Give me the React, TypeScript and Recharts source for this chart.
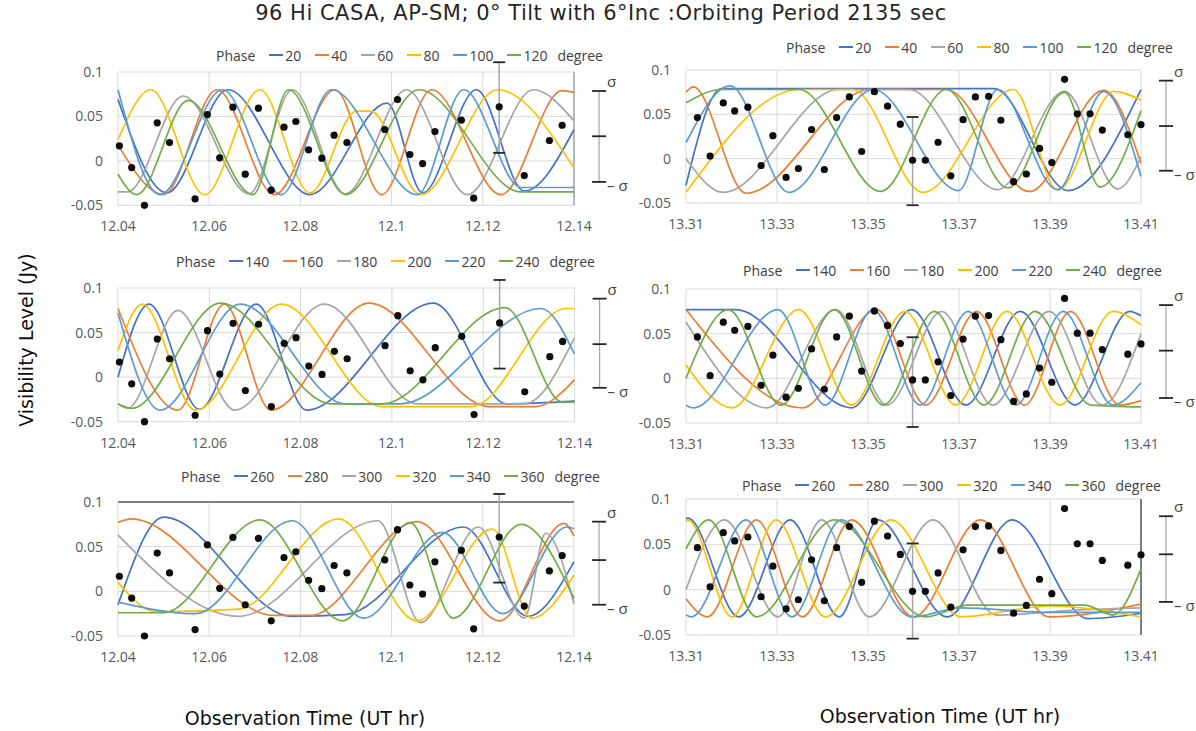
import React from 'react';
import {
  ComposedChart,
  Line,
  Scatter,
  XAxis,
  YAxis,
  CartesianGrid,
  ReferenceLine,
  ReferenceDot,
} from 'recharts';

type Pt = [number, number];

const TITLE = '96 Hi CASA, AP-SM; 0° Tilt with 6°Inc :Orbiting Period 2135 sec';
const Y_TITLE = 'Visibility Level (Jy)';
const X_TITLE = 'Observation Time (UT hr)';

const leftTicks = [12.04, 12.06, 12.08, 12.1, 12.12, 12.14];
const rightTicks = [13.31, 13.33, 13.35, 13.37, 13.39, 13.41];
const yTicks = [-0.05, 0, 0.05, 0.1];

const phaseTop = ['20', '40', '60', '80', '100', '120'];
const phaseMid = ['140', '160', '180', '200', '220', '240'];
const phaseLow = ['260', '280', '300', '320', '340', '360'];
const phaseColors = ['#4472C4', '#ED7D31', '#A5A5A5', '#FFC000', '#5B9BD5', '#70AD47'];

// observed visibilities [UT hr, Jy]
const leftObs: Pt[] = [
  [12.0403, 0.0169], [12.043, -0.0075], [12.0458, -0.05], [12.0486, 0.0428], [12.0513, 0.0206],
  [12.0569, -0.0428], [12.0596, 0.0521], [12.0623, 0.0034], [12.0652, 0.0604], [12.0679, -0.015],
  [12.0708, 0.0593], [12.0736, -0.033], [12.0764, 0.0379], [12.079, 0.0443], [12.0818, 0.0124],
  [12.0847, 0.003], [12.0874, 0.0289], [12.0902, 0.0206], [12.0985, 0.0353], [12.1013, 0.069],
  [12.104, 0.0071], [12.1068, -0.003], [12.1095, 0.033], [12.1153, 0.0458], [12.118, -0.042],
  [12.1236, 0.0608], [12.1291, -0.0165], [12.1346, 0.0229], [12.1374, 0.0401],
];
const rightObs: Pt[] = [
  [13.3125, 0.0463], [13.3153, 0.003], [13.3182, 0.0629], [13.3207, 0.0538], [13.3236, 0.0581],
  [13.3265, -0.0078], [13.3291, 0.0259], [13.332, -0.0211], [13.3347, -0.0111], [13.3376, 0.0329],
  [13.3404, -0.0122], [13.3431, 0.0463], [13.3459, 0.0696], [13.3486, 0.0081], [13.3514, 0.0755],
  [13.3543, 0.0592], [13.3571, 0.0389], [13.3598, -0.0018], [13.3626, -0.0018], [13.3654, 0.0185],
  [13.3682, -0.0193], [13.3709, 0.044], [13.3736, 0.0696], [13.3765, 0.0703], [13.3792, 0.0433],
  [13.382, -0.0259], [13.3848, -0.0174], [13.3877, 0.0115], [13.3904, -0.0044], [13.3932, 0.0895],
  [13.396, 0.0506], [13.3988, 0.0506], [13.4015, 0.0322], [13.4071, 0.027], [13.41, 0.0385],
];

// model curves, turning points [UT hr, Jy], one list per phase
const topLeftCurves: Pt[][] = [
  [[12.04, 0.069], [12.0507, -0.036], [12.0641, 0.08], [12.0821, -0.038], [12.099, 0.065], [12.1068, -0.036], [12.1186, 0.08], [12.1291, -0.034], [12.14, 0.035]],
  [[12.04, 0.018], [12.05, -0.038], [12.0617, 0.08], [12.0743, -0.038], [12.0876, 0.08], [12.0978, -0.038], [12.1088, 0.08], [12.124, -0.038], [12.1374, 0.079], [12.14, 0.077]],
  [[12.04, -0.035], [12.0421, -0.035], [12.0543, 0.073], [12.0688, -0.037], [12.0782, 0.08], [12.0899, -0.037], [12.1033, 0.08], [12.1166, -0.038], [12.1311, 0.08], [12.14, 0.045]],
  [[12.04, 0.024], [12.0472, 0.08], [12.059, -0.038], [12.0711, 0.08], [12.0821, -0.036], [12.0923, 0.056], [12.0954, 0.056], [12.1064, -0.038], [12.1233, 0.08], [12.14, -0.008]],
  [[12.04, 0.08], [12.0492, -0.038], [12.0629, 0.08], [12.0758, -0.038], [12.0868, 0.08], [12.1056, -0.038], [12.1158, 0.08], [12.1284, -0.03], [12.14, -0.03]],
  [[12.04, -0.015], [12.0441, -0.038], [12.0554, 0.068], [12.0696, -0.038], [12.0774, 0.08], [12.0899, -0.038], [12.106, 0.08], [12.1284, -0.035], [12.14, -0.035]],
];
const topRightCurves: Pt[][] = [
  [[13.31, -0.03], [13.3178, 0.079], [13.3777, 0.079], [13.394, -0.036], [13.41, 0.078]],
  [[13.31, 0.075], [13.3116, 0.081], [13.3232, -0.039], [13.3505, 0.078], [13.3672, 0.078], [13.3855, -0.037], [13.4018, 0.077], [13.41, -0.005]],
  [[13.31, 0.0], [13.3182, -0.038], [13.3435, 0.078], [13.359, 0.078], [13.3785, -0.035], [13.3932, 0.076], [13.4049, -0.034], [13.41, 0.002]],
  [[13.31, -0.038], [13.3349, 0.078], [13.3466, 0.078], [13.3621, -0.038], [13.382, 0.078], [13.3917, -0.035], [13.4041, 0.076], [13.41, 0.066]],
  [[13.31, 0.018], [13.3197, 0.082], [13.3326, -0.038], [13.3512, 0.078], [13.3699, -0.036], [13.3785, 0.078], [13.3917, -0.035], [13.4018, 0.076], [13.41, -0.02]],
  [[13.31, 0.063], [13.3178, 0.078], [13.3349, 0.078], [13.3528, -0.037], [13.3672, 0.078], [13.3808, -0.033], [13.3932, 0.075], [13.401, -0.032], [13.41, 0.054]],
];
const midLeftCurves: Pt[][] = [
  [[12.04, 0.0], [12.0468, 0.082], [12.0578, -0.036], [12.0703, 0.082], [12.0813, -0.037], [12.1091, 0.083], [12.1252, -0.03], [12.14, -0.027]],
  [[12.04, 0.077], [12.0531, -0.037], [12.0633, 0.082], [12.0735, -0.037], [12.095, 0.083], [12.1213, -0.033], [12.1315, -0.033], [12.14, -0.003]],
  [[12.04, -0.03], [12.0421, -0.035], [12.0531, 0.075], [12.0656, -0.037], [12.0852, 0.082], [12.1056, -0.03], [12.1291, -0.03], [12.14, 0.044]],
  [[12.04, 0.03], [12.0453, 0.082], [12.057, -0.037], [12.0758, 0.082], [12.0978, -0.033], [12.1174, -0.033], [12.1382, 0.077], [12.14, 0.077]],
  [[12.04, 0.072], [12.0492, -0.037], [12.0668, 0.082], [12.0899, -0.03], [12.1017, -0.03], [12.1327, 0.077], [12.14, 0.026]],
  [[12.04, -0.03], [12.0429, -0.035], [12.0625, 0.083], [12.0868, -0.03], [12.0978, -0.03], [12.1248, 0.078], [12.1374, -0.028], [12.14, -0.028]],
];
const midRightCurves: Pt[][] = [
  [[13.31, 0.077], [13.3209, 0.077], [13.3464, -0.033], [13.3596, 0.077], [13.3715, -0.03], [13.3835, 0.075], [13.3955, -0.03], [13.4075, 0.075], [13.41, 0.07]],
  [[13.31, 0.077], [13.3356, -0.033], [13.3519, 0.077], [13.3627, -0.03], [13.3739, 0.075], [13.3844, -0.03], [13.3945, 0.075], [13.4053, -0.03], [13.41, -0.025]],
  [[13.31, 0.063], [13.3278, -0.033], [13.3429, 0.077], [13.3542, -0.03], [13.3662, 0.075], [13.3774, -0.03], [13.3898, 0.075], [13.4015, -0.03], [13.41, 0.05]],
  [[13.31, 0.015], [13.3201, -0.033], [13.3348, 0.077], [13.3464, -0.03], [13.3581, 0.075], [13.3693, -0.03], [13.3805, 0.075], [13.3922, -0.03], [13.4038, 0.075], [13.41, 0.06]],
  [[13.31, -0.03], [13.3116, -0.033], [13.3302, 0.077], [13.3406, -0.03], [13.3511, 0.077], [13.3615, -0.03], [13.372, 0.075], [13.3825, -0.03], [13.3929, 0.075], [13.4038, -0.03], [13.41, -0.005]],
  [[13.31, 0.0], [13.3193, 0.077], [13.3309, -0.03], [13.3426, 0.077], [13.3534, -0.03], [13.3646, 0.075], [13.3755, -0.03], [13.3867, 0.075], [13.399, -0.03], [13.41, -0.032]],
];
const lowLeftCurves: Pt[][] = [
  [[12.04, -0.015], [12.05, 0.083], [12.0782, -0.028], [12.0899, -0.026], [12.1158, 0.072], [12.1299, -0.028], [12.14, 0.033]],
  [[12.04, 0.077], [12.0429, 0.081], [12.0743, -0.027], [12.0821, -0.027], [12.1056, 0.078], [12.1237, -0.033], [12.1378, 0.076], [12.14, 0.062]],
  [[12.04, 0.063], [12.0664, -0.028], [12.097, 0.079], [12.1064, -0.035], [12.119, 0.072], [12.1291, -0.03], [12.1338, 0.065], [12.14, -0.014]],
  [[12.04, 0.01], [12.0484, -0.023], [12.0664, -0.02], [12.0884, 0.081], [12.1056, -0.033], [12.1221, 0.07], [12.1307, -0.03], [12.14, 0.018]],
  [[12.04, -0.012], [12.057, -0.025], [12.0782, 0.079], [12.0939, -0.03], [12.1111, 0.066], [12.1244, -0.025], [12.1385, 0.072], [12.14, 0.07]],
  [[12.04, -0.024], [12.05, -0.024], [12.0711, 0.08], [12.0892, -0.033], [12.1041, 0.077], [12.1135, -0.03], [12.1284, 0.075], [12.14, -0.008]],
];
const lowRightCurves: Pt[][] = [
  [[13.31, 0.078], [13.3104, 0.079], [13.3216, -0.03], [13.3329, 0.077], [13.3437, -0.03], [13.3522, 0.077], [13.3674, -0.03], [13.3817, 0.077], [13.3984, -0.032], [13.41, -0.026]],
  [[13.31, -0.01], [13.3147, -0.03], [13.3255, 0.077], [13.3356, -0.03], [13.3464, 0.077], [13.36, -0.03], [13.3747, 0.077], [13.3898, -0.03], [13.41, -0.016]],
  [[13.31, 0.0], [13.3185, 0.077], [13.3302, -0.03], [13.3398, 0.077], [13.3503, -0.03], [13.3643, 0.077], [13.3782, -0.028], [13.3976, -0.022], [13.41, -0.02]],
  [[13.31, 0.075], [13.3104, 0.077], [13.3201, -0.03], [13.3298, 0.077], [13.3406, -0.03], [13.355, 0.077], [13.3705, -0.03], [13.3898, -0.018], [13.41, -0.03]],
  [[13.31, -0.028], [13.3112, -0.03], [13.3232, 0.077], [13.3333, -0.03], [13.3441, 0.077], [13.3596, -0.03], [13.3705, -0.02], [13.3898, -0.025], [13.41, -0.025]],
  [[13.31, 0.045], [13.315, 0.077], [13.3255, -0.03], [13.3426, 0.077], [13.3627, -0.03], [13.372, -0.017], [13.3976, -0.017], [13.4038, -0.028], [13.41, 0.023]],
];

// error bar [UT hr, value, low, high] and sigma scale [-σ, mid, σ]
const errTopLeft = [12.1236, 0.0608, 0.009, 0.111];
const errMidLeft = [12.1236, 0.058, 0.0096, 0.109];
const errLowLeft = [12.1236, 0.061, 0.0098, 0.109];
const errTopRight = [13.3598, -0.0018, -0.0525, 0.047];
const errMidRight = [13.3598, -0.004, -0.0545, 0.046];
const errLowRight = [13.3598, 0.0, -0.054, 0.051];
const sigmaTopLeft = [-0.0237, 0.0277, 0.0786];
const sigmaMidLeft = [-0.012, 0.037, 0.088];
const sigmaLowLeft = [-0.015, 0.035, 0.078];
const sigmaTopRight = [-0.0136, 0.0368, 0.088];
const sigmaMidRight = [-0.022, 0.031, 0.082];
const sigmaLowRight = [-0.0135, 0.039, 0.081];

const toRows = (pts: Pt[]) => pts.map(([t, v]) => ({ t, v }));

interface PanelProps {
  plot: { x0: number; x1: number; y0: number; y1: number };
  domain: [number, number];
  ticks: number[];
  curves: Pt[][];
  phases: string[];
  obs: Pt[];
  err: number[];
  sigma: number[];
  legendAt: [number, number];
  topEdge?: string;
  rightEdge?: string;
}

const tickStyle = { fill: '#595959', fontSize: 14 };

function Panel({ plot, domain, ticks, curves, phases, obs, err, sigma, legendAt, topEdge, rightEdge }: PanelProps) {
  const ML = 70;
  const MR = 64;
  const MT = 12;
  const MB = 34;
  const w = plot.x1 - plot.x0 + ML + MR;
  const h = plot.y1 - plot.y0 + MT + MB;
  const span = domain[1] - domain[0];
  const sx = domain[1] + span * 0.055;
  const [et, , elo, ehi] = err;
  const [slo, smid, shi] = sigma;

  const cap = (d: any) => (
    <line x1={d.cx - 6} x2={d.cx + 6} y1={d.cy} y2={d.cy} stroke="#262626" strokeWidth={1.8} />
  );
  const sigTick = (label: string, dy: number) => (d: any) => (
    <g>
      <line x1={d.cx - 7} x2={d.cx + 7} y1={d.cy} y2={d.cy} stroke="#262626" strokeWidth={1.8} />
      {label && (
        <text x={d.cx + 8} y={d.cy + dy} fontSize={15} fill="#404040" dominantBaseline="middle">
          {label}
        </text>
      )}
    </g>
  );

  return (
    <>
      <div style={{ position: 'absolute', left: plot.x0 - ML, top: plot.y0 - MT }}>
        <ComposedChart width={w} height={h} margin={{ top: MT, right: MR, bottom: 4, left: 10 }}>
          <CartesianGrid stroke="#d9d9d9" />
          <XAxis
            type="number"
            dataKey="t"
            domain={domain}
            ticks={ticks}
            interval={0}
            axisLine={false}
            tickLine={false}
            tickMargin={10}
            height={30}
            tick={tickStyle}
          />
          <YAxis
            type="number"
            dataKey="v"
            domain={[-0.05, 0.1]}
            ticks={yTicks}
            interval={0}
            axisLine={false}
            tickLine={false}
            tickMargin={9}
            width={60}
            tick={tickStyle}
          />
          {topEdge && <ReferenceLine y={0.1} stroke={topEdge} strokeWidth={2} />}
          {rightEdge && <ReferenceLine x={domain[1]} stroke={rightEdge} strokeWidth={1.5} />}
          {curves.map((c, i) => (
            <Line
              key={phases[i]}
              data={toRows(c)}
              dataKey="v"
              name={phases[i]}
              type="monotone"
              stroke={phaseColors[i]}
              strokeWidth={1.7}
              dot={false}
              activeDot={false}
              isAnimationActive={false}
            />
          ))}
          <Scatter
            data={toRows(obs)}
            isAnimationActive={false}
            shape={(s: any) => <circle cx={s.cx} cy={s.cy} r={3.6} fill="#0d0d0d" />}
          />
          <ReferenceLine
            segment={[{ x: et, y: elo }, { x: et, y: ehi }]}
            stroke="#a6a6a6"
            strokeWidth={1.5}
            ifOverflow="visible"
          />
          <ReferenceDot x={et} y={ehi} r={4} ifOverflow="visible" shape={cap} />
          <ReferenceDot x={et} y={elo} r={4} ifOverflow="visible" shape={cap} />
          <ReferenceLine
            segment={[{ x: sx, y: slo }, { x: sx, y: shi }]}
            stroke="#a6a6a6"
            strokeWidth={1.2}
            ifOverflow="visible"
          />
          <ReferenceDot x={sx} y={shi} r={4} ifOverflow="visible" shape={sigTick('σ', -8)} />
          <ReferenceDot x={sx} y={smid} r={4} ifOverflow="visible" shape={sigTick('', 0)} />
          <ReferenceDot x={sx} y={slo} r={4} ifOverflow="visible" shape={sigTick('– σ', 5)} />
        </ComposedChart>
      </div>
      <div
        style={{
          position: 'absolute',
          left: legendAt[0],
          top: legendAt[1] - 10,
          height: 20,
          display: 'flex',
          alignItems: 'center',
          fontSize: 14,
          color: '#404040',
          whiteSpace: 'nowrap',
        }}
      >
        <span style={{ marginRight: 14 }}>Phase</span>
        {phases.map((ph, i) => (
          <span key={ph} style={{ display: 'flex', alignItems: 'center', marginRight: i < 5 ? 14 : 10 }}>
            <span style={{ width: 14, height: 2, background: phaseColors[i], marginRight: 2 }} />
            {ph}
          </span>
        ))}
        <span>degree</span>
      </div>
    </>
  );
}

const axisTitle = { fontFamily: '"DejaVu Sans", sans-serif', fontSize: 19, color: '#111' };

export default function App() {
  return (
    <div
      style={{
        position: 'absolute',
        left: 0,
        top: 0,
        width: 1196,
        height: 731,
        background: '#fff',
        overflow: 'hidden',
        fontFamily: '"Open Sans", sans-serif',
      }}
    >
      <div
        style={{
          position: 'absolute',
          left: 0,
          top: 1,
          width: 1202,
          textAlign: 'center',
          lineHeight: '24px',
          fontFamily: '"DejaVu Sans", sans-serif',
          fontSize: 21,
          letterSpacing: 0.5,
          color: '#262626',
        }}
      >
        {TITLE}
      </div>

      <Panel plot={{ x0: 118, x1: 574, y0: 71.7, y1: 205 }} domain={[12.04, 12.14]} ticks={leftTicks}
        curves={topLeftCurves} phases={phaseTop} obs={leftObs} err={errTopLeft} sigma={sigmaTopLeft}
        legendAt={[216, 55]} rightEdge="#a6a6a6" />
      <Panel plot={{ x0: 686, x1: 1141, y0: 70, y1: 203 }} domain={[13.31, 13.41]} ticks={rightTicks}
        curves={topRightCurves} phases={phaseTop} obs={rightObs} err={errTopRight} sigma={sigmaTopRight}
        legendAt={[786, 47]} />
      <Panel plot={{ x0: 117.5, x1: 574, y0: 288, y1: 421.7 }} domain={[12.04, 12.14]} ticks={leftTicks}
        curves={midLeftCurves} phases={phaseMid} obs={leftObs} err={errMidLeft} sigma={sigmaMidLeft}
        legendAt={[176, 261]} />
      <Panel plot={{ x0: 686, x1: 1141, y0: 289, y1: 423 }} domain={[13.31, 13.41]} ticks={rightTicks}
        curves={midRightCurves} phases={phaseMid} obs={rightObs} err={errMidRight} sigma={sigmaMidRight}
        legendAt={[743, 270]} />
      <Panel plot={{ x0: 118, x1: 574, y0: 501.7, y1: 635.7 }} domain={[12.04, 12.14]} ticks={leftTicks}
        curves={lowLeftCurves} phases={phaseLow} obs={leftObs} err={errLowLeft} sigma={sigmaLowLeft}
        legendAt={[181, 476]} topEdge="#7f7f7f" />
      <Panel plot={{ x0: 686, x1: 1141, y0: 499, y1: 635 }} domain={[13.31, 13.41]} ticks={rightTicks}
        curves={lowRightCurves} phases={phaseLow} obs={rightObs} err={errLowRight} sigma={sigmaLowRight}
        legendAt={[742, 485]} rightEdge="#595959" />

      <div
        style={{
          ...axisTitle,
          position: 'absolute',
          left: 26 - 130,
          top: 340 - 13,
          width: 260,
          height: 26,
          lineHeight: '26px',
          textAlign: 'center',
          transform: 'rotate(-90deg)',
        }}
      >
        {Y_TITLE}
      </div>
      <div style={{ ...axisTitle, position: 'absolute', left: 105, top: 705, width: 400, lineHeight: '26px', textAlign: 'center' }}>
        {X_TITLE}
      </div>
      <div style={{ ...axisTitle, position: 'absolute', left: 740, top: 703, width: 400, lineHeight: '26px', textAlign: 'center' }}>
        {X_TITLE}
      </div>
    </div>
  );
}
